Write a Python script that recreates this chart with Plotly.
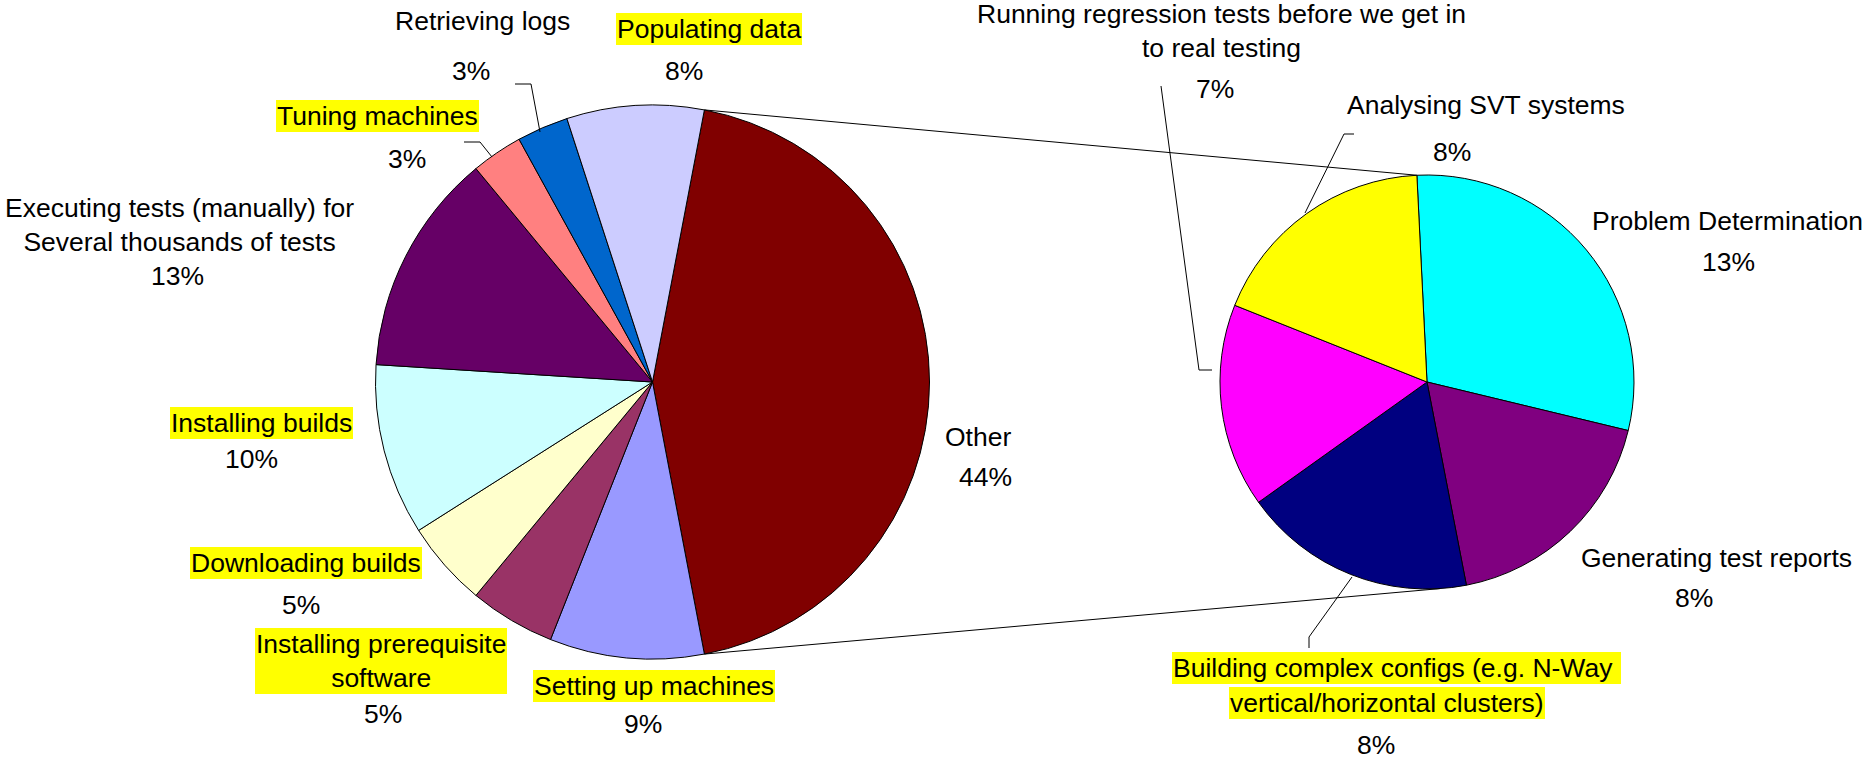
import math
import plotly.graph_objects as go

# ---------------- data ----------------
main_labels = [
    "Other",
    "Setting up machines",
    "Installing prerequisite<br>software",
    "Downloading builds",
    "Installing builds",
    "Executing tests (manually) for<br>Several thousands of tests",
    "Tuning machines",
    "Retrieving logs",
    "Populating data",
]
main_values = [44, 9, 5, 5, 10, 13, 3, 3, 8]
main_colors = ["#800000", "#9999FF", "#993366", "#FFFFCC", "#CCFFFF",
               "#660066", "#FF8080", "#0066CC", "#CCCCFF"]
main_highlight = [False, True, True, True, True, False, True, False, True]

sub_labels = [
    "Problem Determination",
    "Generating test reports",
    "Building complex configs (e.g. N-Way&nbsp;<br>vertical/horizontal clusters)",
    "Running regression tests before we get in<br>to real testing",
    "Analysing SVT systems",
]
sub_values = [13, 8, 8, 7, 8]
sub_colors = ["#00FFFF", "#800080", "#000080", "#FF00FF", "#FFFF00"]
sub_highlight = [False, False, True, False, False]

# ---------------- layout constants (pixels) ----------------
W, H = 1865, 764
FONT = "Liberation Sans, Arial, sans-serif"
FS = 26.5

C1, R1 = (652.5, 382.0), 277.0
C2, R2 = (1427.0, 382.0), 207.0

# label line centres / percentage centres ; anchor per label
main_label_pos = [
    [(978, 437)], [(654, 686)], [(381, 661)], [(306, 563)], [(261, 423)],
    [(179, 225)], [(377, 116)], [(482, 21)], [(709, 29)],
]
main_pct_pos = [(985, 477), (643, 724), (383, 714), (301, 605), (251, 459),
                (177, 276), (407, 159), (471, 71), (684, 71)]
sub_label_pos = [
    [(1864, 221, "right")], [(1716, 558)], [(1396, 668), (1387, 703)],
    [(1221, 31)], [(1486, 105)],
]
sub_pct_pos = [(1728, 262), (1694, 598), (1376, 745), (1215, 89), (1452, 152)]

leaders = [
    [(515, 84), (531, 84), (540, 132)],
    [(464, 142), (480, 142), (492, 157)],
    [(1161, 86), (1199, 370), (1212, 370)],
    [(1354, 134), (1344, 134), (1305, 213)],
    [(1309, 648), (1309, 637), (1352, 577)],
]
SUB_BOTTOM_ANGLE = 176.4


def px(x):
    return x / W


def py(y):
    return 1 - y / H


def dom(c, r):
    return dict(x=[px(c[0] - r), px(c[0] + r)], y=[py(c[1] + r), py(c[1] - r)])


# rotation so that "Other" is centred on 3 o'clock
rot1 = 90 - main_values[0] / sum(main_values) * 360 / 2
rot2 = -2.8

fig = go.Figure()
fig.add_trace(go.Pie(
    labels=[l.replace("<br>", " ") for l in main_labels], values=main_values,
    sort=False, direction="clockwise", rotation=rot1,
    marker=dict(colors=main_colors, line=dict(color="black", width=1)),
    textinfo="none", hoverinfo="label+percent", domain=dom(C1, R1),
    showlegend=False,
))
fig.add_trace(go.Pie(
    labels=[l.replace("<br>", " ").replace("&nbsp;", "") for l in sub_labels],
    values=sub_values,
    sort=False, direction="clockwise", rotation=rot2,
    marker=dict(colors=sub_colors, line=dict(color="black", width=1)),
    textinfo="none", hoverinfo="label+value", domain=dom(C2, R2),
    showlegend=False,
))

annotations = []


def add_text(txt, x, y, hl, anchor="center"):
    annotations.append(dict(
        text=txt, x=px(x), y=py(y), xref="paper", yref="paper",
        xanchor=anchor, yanchor="middle", showarrow=False,
        font=dict(family=FONT, size=FS, color="black"),
        bgcolor="#FFFF00" if hl else "rgba(0,0,0,0)",
        borderpad=1, borderwidth=0,
    ))


def add_labels(labels, values, hls, lpos, ppos):
    total = sum(main_values)
    for lab, v, hl, lp, pp in zip(labels, values, hls, lpos, ppos):
        if len(lp) == 1:
            p = lp[0]
            add_text(lab, p[0], p[1], hl, p[2] if len(p) > 2 else "center")
        else:
            for line, (x, y) in zip(lab.split("<br>"), lp):
                add_text(line, x, y, hl)
        add_text(f"{round(v / total * 100)}%", pp[0], pp[1], False)


add_labels(main_labels, main_values, main_highlight, main_label_pos, main_pct_pos)
add_labels(sub_labels, sub_values, sub_highlight, sub_label_pos, sub_pct_pos)

shapes = []
for pts in leaders:
    for (x0, y0), (x1, y1) in zip(pts[:-1], pts[1:]):
        shapes.append(dict(type="line", xref="paper", yref="paper",
                           x0=px(x0), y0=py(y0), x1=px(x1), y1=py(y1),
                           line=dict(color="black", width=1)))


def pt(c, r, ang):
    a = math.radians(ang)
    return c[0] + r * math.sin(a), c[1] - r * math.cos(a)


end1 = rot1 + main_values[0] / sum(main_values) * 360
for (a, b) in [(pt(C1, R1, rot1), pt(C2, R2, rot2)),
               (pt(C1, R1, end1), pt(C2, R2, SUB_BOTTOM_ANGLE))]:
    shapes.append(dict(type="line", xref="paper", yref="paper",
                       x0=px(a[0]), y0=py(a[1]), x1=px(b[0]), y1=py(b[1]),
                       line=dict(color="black", width=1)))

fig.update_layout(
    width=W, height=H, margin=dict(l=0, r=0, t=0, b=0),
    paper_bgcolor="white", plot_bgcolor="white",
    annotations=annotations, shapes=shapes,
    font=dict(family=FONT, size=FS, color="black"),
)

fig.write_html(
    "out.html",
    config={"displayModeBar": False},
    post_script="document.body.style.margin='0';document.body.style.overflow='hidden';",
)
